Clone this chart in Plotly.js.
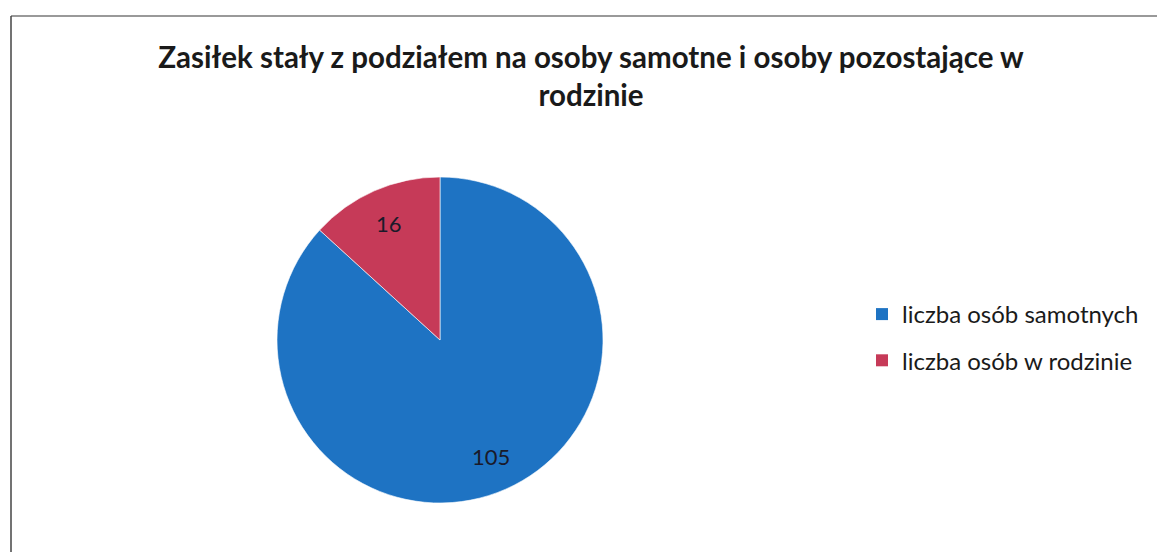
<!DOCTYPE html>
<html><head><meta charset="utf-8">
<script src="https://cdn.plot.ly/plotly-3.0.1.min.js"></script>
<style>html,body{margin:0;padding:0;background:#fff;}#chart{width:1157px;height:552px;}</style>
</head><body><div id="chart"></div>
<script>
const labels = ["liczba osób samotnych", "liczba osób w rodzinie"];
const values = [105, 16];
const colors = ["#1E73C3", "#C63A58"];
const titleText = "Zasiłek stały z podziałem na osoby samotne i osoby pozostające w<br>rodzinie";

const W = 1157, H = 552;
const cx = 440, cy = 340, r = 163;
const FONT = "Lato, 'Open Sans', sans-serif";

// pie (legend drawn by separate legend-only traces for Excel-like row spacing)
const data = [{
  type: "pie",
  labels: labels,
  values: values,
  sort: false,
  direction: "clockwise",
  rotation: 0,
  marker: {colors: colors, line: {color: "rgba(255,255,255,0.6)", width: 1}},
  textinfo: "none",
  showlegend: false,
  domain: {x: [(cx - r) / W, (cx + r) / W], y: [(H - cy - r) / H, (H - cy + r) / H]},
  hoverinfo: "label+value"
}];
labels.forEach((lab, i) => {
  data.push({
    type: "scatter", mode: "markers", x: [null], y: [null],
    name: lab, legendgroup: "g" + i, showlegend: true,
    marker: {symbol: "square", size: 12, color: colors[i]},
    hoverinfo: "skip"
  });
});

// data labels placed at Excel-like position along each slice's mid-angle
const total = values.reduce((a, b) => a + b, 0);
const annotations = [];
let acc = 0;
values.forEach((v, i) => {
  const mid = (acc + v / 2) / total * 2 * Math.PI;
  acc += v;
  const f = 0.78;
  const px = cx + f * r * Math.sin(mid);
  const py = cy - f * r * Math.cos(mid);
  annotations.push({
    xref: "paper", yref: "paper", x: px / W, y: 1 - py / H,
    xanchor: "center", yanchor: "middle", showarrow: false,
    text: String(v), font: {family: FONT, size: 22, color: "#1a1a2a"}
  });
});

const layout = {
  width: W, height: H,
  margin: {l: 0, r: 0, t: 0, b: 0},
  paper_bgcolor: "#fff", plot_bgcolor: "rgba(0,0,0,0)",
  xaxis: {visible: false}, yaxis: {visible: false},
  title: {
    text: titleText,
    font: {family: FONT, size: 29.5, color: "#1a1a1a", weight: "bold"},
    x: 591 / W, xanchor: "center", xref: "paper",
    y: 1 - 68 / H, yanchor: "top", yref: "paper"
  },
  showlegend: true,
  legend: {
    x: 862 / W, xanchor: "left", y: 1 - 292 / H, yanchor: "top",
    font: {family: FONT, size: 24, color: "#1a1a1a"},
    tracegroupgap: 12, itemwidth: 30,
    bgcolor: "rgba(0,0,0,0)"
  },
  annotations: annotations,
  shapes: [
    {type: "line", xref: "paper", yref: "paper", x0: 11 / W, x1: 1, y0: 1 - 16 / H, y1: 1 - 16 / H, line: {color: "#777", width: 1.5}},
    {type: "line", xref: "paper", yref: "paper", x0: 11 / W, x1: 11 / W, y0: 0, y1: 1 - 16 / H, line: {color: "#444", width: 1.5}}
  ]
};

Plotly.newPlot("chart", data, layout, {displayModeBar: false, staticPlot: true});
</script>
</body></html>
